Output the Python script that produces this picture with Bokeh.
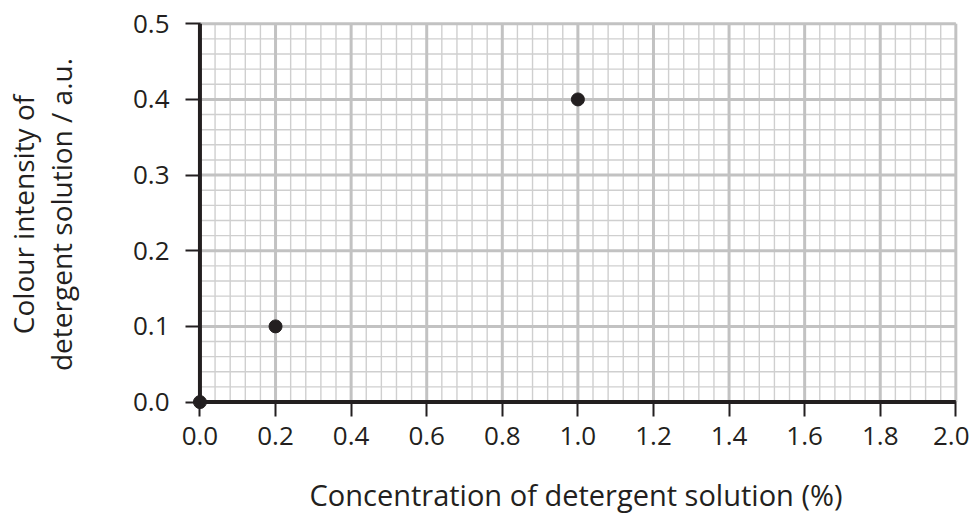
import numpy as np
from bokeh.plotting import figure
from bokeh.models import Range1d, FixedTicker, NumeralTickFormatter
from bokeh.embed import file_html
from bokeh.resources import INLINE

# data
concentration = [0.0, 0.2, 1.0]
colour_intensity = [0.0, 0.1, 0.4]

x_ticks = [0.0, 0.2, 0.4, 0.6, 0.8, 1.0, 1.2, 1.4, 1.6, 1.8, 2.0]
y_ticks = [0.0, 0.1, 0.2, 0.3, 0.4, 0.5]
x_minor_step = 0.04
y_minor_step = 0.02

x_label = "Concentration of detergent solution (%)"
y_label = "Colour intensity of\ndetergent solution / a.u."

FONT = "Open Sans"
INK = "#231f20"

# small margins beyond the data box so corner marks are not clipped
XPAD, YPAD = 0.025, 0.0125
FW, FH = 771, 394
PADPX = 10
TICK = 15

p = figure(
    frame_width=FW, frame_height=FH,
    min_border_left=190, min_border_right=8,
    min_border_top=17, min_border_bottom=100,
    x_range=Range1d(x_ticks[0] - XPAD, x_ticks[-1] + 0.015),
    y_range=Range1d(y_ticks[0] - YPAD, y_ticks[-1] + 0.0083),
    output_backend="svg", toolbar_location=None,
)
p.outline_line_color = None
p.xgrid.visible = False
p.ygrid.visible = False

x0, x1 = x_ticks[0], x_ticks[-1]
y0, y1 = y_ticks[0], y_ticks[-1]

# minor grid
xm = np.round(np.arange(x0, x1 + 1e-9, x_minor_step), 4)
ym = np.round(np.arange(y0, y1 + 1e-9, y_minor_step), 4)
p.segment(x0=xm, y0=[y0] * len(xm), x1=xm, y1=[y1] * len(xm),
          line_color="#cfcfcf", line_width=1.4)
p.segment(x0=[x0] * len(ym), y0=ym, x1=[x1] * len(ym), y1=ym,
          line_color="#cfcfcf", line_width=1.4)
# major grid
p.segment(x0=x_ticks, y0=[y0] * len(x_ticks), x1=x_ticks, y1=[y1] * len(x_ticks),
          line_color="#c2c2c2", line_width=3)
p.segment(x0=[x0] * len(y_ticks), y0=y_ticks, x1=[x1] * len(y_ticks), y1=y_ticks,
          line_color="#c2c2c2", line_width=3)

# axis lines at the data origin
p.segment(x0=[x0, x0], y0=[y0, y0], x1=[x1, x0], y1=[y0, y1],
          line_color=INK, line_width=4)

# points
p.scatter(concentration, colour_intensity, size=13, marker="circle",
          fill_color=INK, line_color=INK)

for ax, ticks in ((p.xaxis[0], x_ticks), (p.yaxis[0], y_ticks)):
    ax.ticker = FixedTicker(ticks=ticks)
    ax.formatter = NumeralTickFormatter(format="0.0")
    ax.axis_line_color = None
    ax.major_tick_line_color = INK
    ax.major_tick_line_width = 2
    ax.major_tick_in = PADPX
    ax.major_tick_out = TICK - PADPX
    ax.minor_tick_line_color = None
    ax.major_label_text_font = FONT
    ax.major_label_text_font_size = "26px"
    ax.major_label_text_color = INK
    ax.axis_label_text_font = FONT
    ax.axis_label_text_font_size = "28px"
    ax.axis_label_text_font_style = "normal"
    ax.axis_label_text_color = INK

p.xaxis.axis_label = x_label
p.xaxis.axis_label_text_font_size = "29px"
p.yaxis.axis_label = y_label
p.xaxis.major_label_standoff = 10
p.yaxis.major_label_standoff = 16
p.xaxis.axis_label_standoff = 27
p.yaxis.axis_label_standoff = 50
p.yaxis.axis_label_text_line_height = 1.0

open("out.html", "w").write(file_html(p, INLINE))
